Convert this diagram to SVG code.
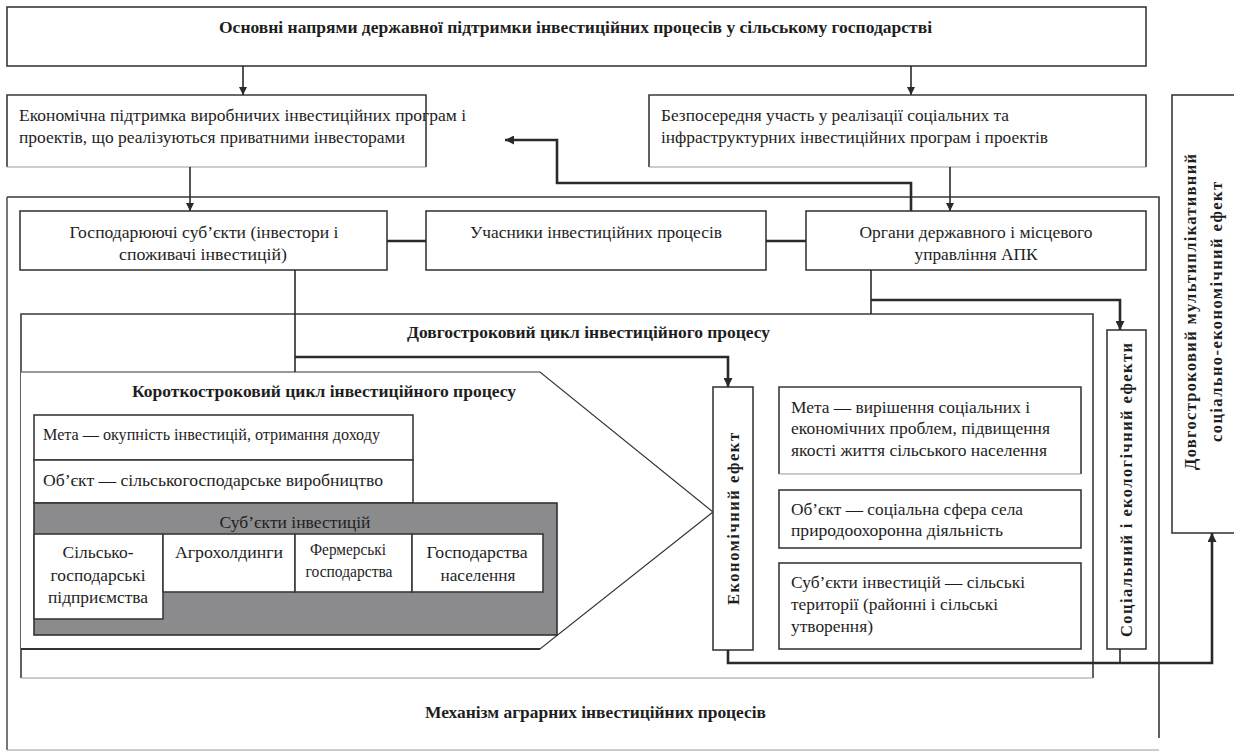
<svg xmlns="http://www.w3.org/2000/svg" width="1234" height="751" viewBox="0 0 1234 751">
<style>
.bx{fill:#fff;stroke:#3a3a3a;stroke-width:1.6}
.lt{fill:none;stroke:#9a9a9a;stroke-width:1.2}
.t{font-family:"Liberation Serif","Times New Roman",serif;font-size:17px;fill:#1e1e1e}
.b{font-weight:bold;font-size:16.5px}
.s{font-size:16px}
.m{text-anchor:middle}
.c{fill:none;stroke:#2a2a2a;stroke-width:1.6}
.k{fill:none;stroke:#2a2a2a;stroke-width:2.6}
</style>
<defs>
<marker id="ar" viewBox="0 0 10 10" refX="10" refY="5" markerWidth="8" markerHeight="8" markerUnits="userSpaceOnUse" orient="auto"><path d="M0,0L10,5L0,10z" fill="#2a2a2a"/></marker>
<marker id="ark" viewBox="0 0 10 10" refX="10" refY="5" markerWidth="9" markerHeight="9" markerUnits="userSpaceOnUse" orient="auto"><path d="M0,0L10,5L0,10z" fill="#2a2a2a"/></marker>
</defs>
<rect width="1234" height="751" fill="#fff"/>

<g id="mechanism">
<path d="M7,197H1159V738" class="bx" fill="none"/>
<path d="M7,197V750" fill="none" stroke="#555" stroke-width="1.6"/>
<path d="M7,750H1159" class="lt"/>
<text class="t b" x="425" y="718" textLength="341" lengthAdjust="spacingAndGlyphs">Механізм аграрних інвестиційних процесів</text>
</g>

<g id="top">
<rect class="bx" x="7" y="7" width="1139" height="59"/>
<text class="t b" x="219" y="33" textLength="713" lengthAdjust="spacingAndGlyphs">Основні напрями державної підтримки інвестиційних процесів у сільському господарстві</text>
</g>

<g id="econ-support">
<path d="M7,167V95H426V167" class="bx" fill="none"/>
<path d="M7,167H426" class="lt"/>
<text class="t" x="19" y="121" textLength="447" lengthAdjust="spacingAndGlyphs">Економічна підтримка виробничих інвестиційних програм і</text>
<text class="t" x="19" y="143" textLength="386" lengthAdjust="spacingAndGlyphs">проектів, що реалізуються приватними інвесторами</text>
</g>

<g id="direct-part">
<path d="M649,167V95H1146V167" class="bx" fill="none"/>
<path d="M649,167H1146" class="lt"/>
<text class="t" x="661" y="121" textLength="348" lengthAdjust="spacingAndGlyphs">Безпосередня участь у реалізації соціальних та</text>
<text class="t" x="661" y="143" textLength="387" lengthAdjust="spacingAndGlyphs">інфраструктурних інвестиційних програм і проектів</text>
</g>

<g id="long-effect">
<rect class="bx" x="1172" y="95" width="80" height="438"/>
<text class="t b" transform="translate(1196,312) rotate(-90)" text-anchor="middle" textLength="316" lengthAdjust="spacing">Довгостроковий мультиплікативний</text>
<text class="t b" transform="translate(1222,312) rotate(-90)" text-anchor="middle" textLength="260" lengthAdjust="spacing">соціально-економічний ефект</text>
</g>

<g id="entities">
<rect class="bx" x="20" y="211" width="367" height="59"/>
<text class="t m" x="204" y="238" textLength="269" lengthAdjust="spacingAndGlyphs">Господарюючі суб’єкти (інвестори і</text>
<text class="t m" x="203" y="260" textLength="168" lengthAdjust="spacingAndGlyphs">споживачі інвестицій)</text>
</g>

<g id="participants">
<rect class="bx" x="426" y="211" width="340" height="59"/>
<text class="t m" x="596" y="238" textLength="252" lengthAdjust="spacingAndGlyphs">Учасники інвестиційних процесів</text>
</g>

<g id="authorities">
<rect class="bx" x="806" y="211" width="340" height="59"/>
<text class="t m" x="976" y="238" textLength="233" lengthAdjust="spacingAndGlyphs">Органи державного і місцевого</text>
<text class="t m" x="976" y="260" textLength="123" lengthAdjust="spacingAndGlyphs">управління АПК</text>
</g>

<g id="long-cycle">
<path d="M21,678V314H1093V678" class="bx" fill="none"/>
<path d="M21,678H1093" class="lt"/>
<text class="t b" x="407" y="338" textLength="363" lengthAdjust="spacingAndGlyphs">Довгостроковий цикл інвестиційного процесу</text>
</g>

<g id="short-cycle">
<path d="M21,372H540L713,512L540,649H21" fill="#fff" stroke="#333" stroke-width="1.2"/>
<path d="M21,372H540" class="lt"/>
<path d="M21,649H540" stroke="#333" stroke-width="1.8"/>
<text class="t b" x="132" y="397" textLength="384" lengthAdjust="spacingAndGlyphs">Короткостроковий цикл інвестиційного процесу</text>
</g>

<g id="short-goal">
<rect class="bx" x="34" y="415" width="379" height="45"/>
<text class="t s" x="43" y="440" textLength="337" lengthAdjust="spacingAndGlyphs">Мета — окупність інвестицій, отримання доходу</text>
</g>

<g id="short-object">
<rect class="bx" x="34" y="460" width="379" height="43"/>
<text class="t s" x="43" y="486" textLength="340" lengthAdjust="spacingAndGlyphs">Об’єкт — сільськогосподарське виробництво</text>
</g>

<g id="short-subjects">
<rect x="34" y="503" width="523" height="132" fill="#8b8b8d" stroke="#333" stroke-width="1.6"/>
<text class="t m" x="295" y="528" textLength="151" lengthAdjust="spacingAndGlyphs">Суб’єкти інвестицій</text>
</g>

<g id="agri-enterprises">
<rect class="bx" x="34" y="534" width="129" height="85"/>
<text class="t m" x="98" y="558" textLength="71" lengthAdjust="spacingAndGlyphs">Сільсько-</text>
<text class="t m" x="98" y="581" textLength="95" lengthAdjust="spacingAndGlyphs">господарські</text>
<text class="t m" x="98" y="603" textLength="100" lengthAdjust="spacingAndGlyphs">підприємства</text>
</g>

<g id="agroholdings">
<rect class="bx" x="163" y="534" width="132" height="58"/>
<text class="t m" x="229" y="558" textLength="108" lengthAdjust="spacingAndGlyphs">Агрохолдинги</text>
</g>

<g id="farms">
<rect class="bx" x="295" y="534" width="117" height="58"/>
<text class="t m" x="348" y="555" font-size="15" textLength="76" lengthAdjust="spacingAndGlyphs">Фермерські</text>
<text class="t m" x="349" y="577" font-size="15" textLength="87" lengthAdjust="spacingAndGlyphs">господарства</text>
</g>

<g id="households">
<rect class="bx" x="412" y="534" width="131" height="58"/>
<text class="t m" x="477" y="558" textLength="101" lengthAdjust="spacingAndGlyphs">Господарства</text>
<text class="t m" x="478" y="581" textLength="75" lengthAdjust="spacingAndGlyphs">населення</text>
</g>

<g id="econ-effect">
<rect class="bx" x="713" y="387" width="40" height="263"/>
<text class="t b" transform="translate(739,519) rotate(-90)" text-anchor="middle" textLength="172" lengthAdjust="spacing">Економічний ефект</text>
</g>

<g id="long-goal">
<path d="M779,474V387H1081V474" class="bx" fill="none"/>
<path d="M779,474H1081" class="lt"/>
<text class="t" x="791" y="413" textLength="239" lengthAdjust="spacingAndGlyphs">Мета — вирішення соціальних і</text>
<text class="t" x="791" y="434" textLength="259" lengthAdjust="spacingAndGlyphs">економічних проблем, підвищення</text>
<text class="t s" x="791" y="456" textLength="256" lengthAdjust="spacingAndGlyphs">якості життя сільського населення</text>
</g>

<g id="long-object">
<rect class="bx" x="779" y="490" width="302" height="58"/>
<text class="t" x="791" y="515" textLength="232" lengthAdjust="spacingAndGlyphs">Об’єкт — соціальна сфера села</text>
<text class="t" x="791" y="536" textLength="212" lengthAdjust="spacingAndGlyphs">природоохоронна діяльність</text>
</g>

<g id="long-subjects">
<rect class="bx" x="779" y="563" width="302" height="86"/>
<text class="t" x="791" y="588" textLength="234" lengthAdjust="spacingAndGlyphs">Суб’єкти інвестицій — сільські</text>
<text class="t" x="791" y="610" textLength="207" lengthAdjust="spacingAndGlyphs">території (районні і сільські</text>
<text class="t" x="791" y="632" textLength="82" lengthAdjust="spacingAndGlyphs">утворення)</text>
</g>

<g id="soc-eco-effect">
<rect class="bx" x="1107" y="330" width="39" height="319"/>
<text class="t b" transform="translate(1132,490) rotate(-90)" text-anchor="middle" textLength="294" lengthAdjust="spacing">Соціальний і екологічний ефекти</text>
</g>

<g id="connectors">
<path class="c" d="M243,66V95" marker-end="url(#ar)"/>
<path class="c" d="M911,66V95" marker-end="url(#ar)"/>
<path class="c" d="M190,167V211" marker-end="url(#ar)"/>
<path class="c" d="M950,167V211" marker-end="url(#ar)"/>
<path class="k" d="M911,211V183H557V140H505" marker-end="url(#ark)"/>
<path class="k" d="M387,241H426"/>
<path class="k" d="M766,241H806"/>
<path class="c" d="M295,270V372"/>
<path class="k" d="M295,357H728V387" marker-end="url(#ark)"/>
<path class="c" d="M871,270V314"/>
<path class="k" d="M871,300H1120V330" marker-end="url(#ark)"/>
<path class="k" d="M728,650V663H1212V533" marker-end="url(#ark)"/>
<path class="c" d="M1120,649V663"/>
</g>
</svg>
